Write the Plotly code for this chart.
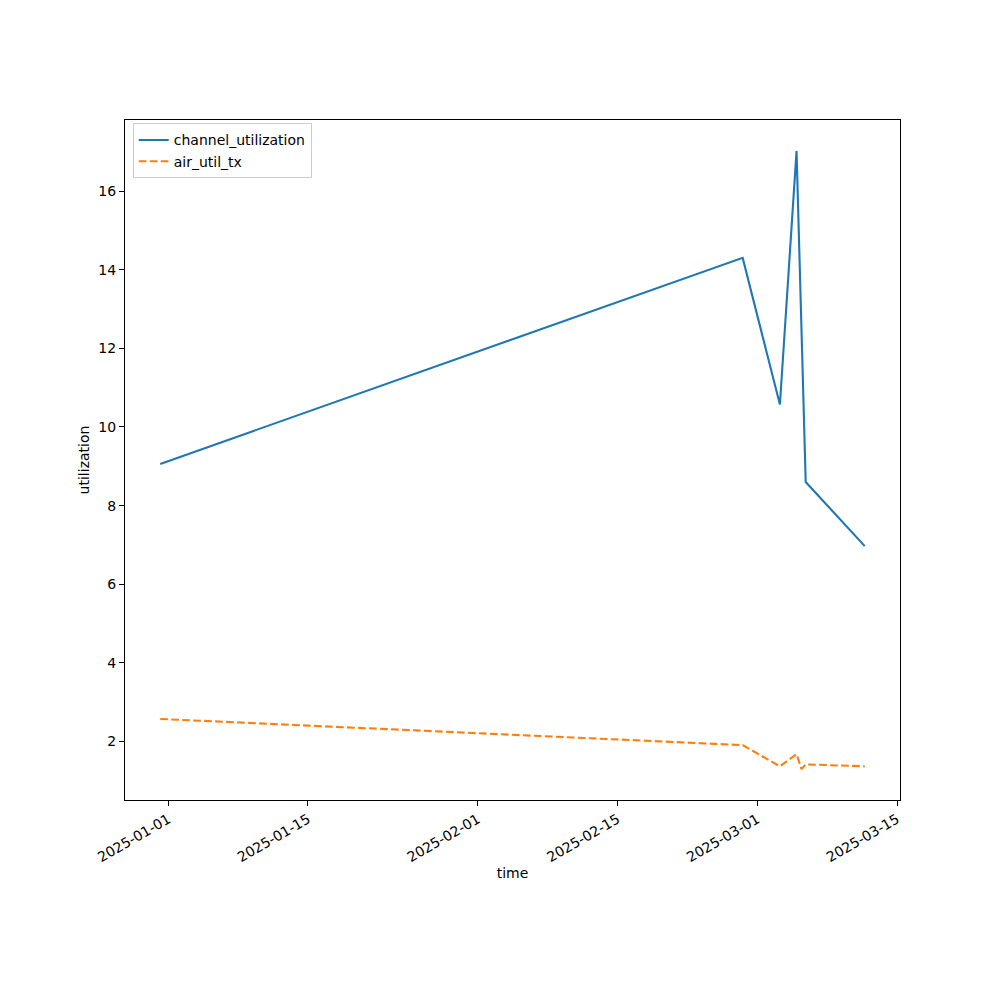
import pandas as pd
import plotly.graph_objects as go

# Data
ch_time = ["2024-12-31 04:48", "2025-02-27 13:00", "2025-03-03 06:30",
           "2025-03-04 22:30", "2025-03-05 20:30", "2025-03-11 18:30"]
ch_util = [9.06, 14.30, 10.57, 17.02, 8.60, 6.97]

air_time = ["2024-12-31 04:48", "2025-02-27 13:00", "2025-03-03 06:30",
            "2025-03-04 22:30", "2025-03-05 10:30", "2025-03-05 20:30",
            "2025-03-11 18:30"]
air_util = [2.575, 1.91, 1.37, 1.68, 1.30, 1.42, 1.37]

tick_dates = ["2025-01-01", "2025-01-15", "2025-02-01", "2025-02-15",
              "2025-03-01", "2025-03-15"]
y_ticks = [2, 4, 6, 8, 10, 12, 14, 16]

# Matplotlib-like 5% auto margins
all_t = pd.to_datetime(ch_time + air_time)
tspan = all_t.max() - all_t.min()
x_range = [all_t.min() - 0.05 * tspan, all_t.max() + 0.05 * tspan]
all_v = ch_util + air_util
vspan = max(all_v) - min(all_v)
y_range = [min(all_v) - 0.05 * vspan, max(all_v) + 0.05 * vspan]

FONT = "DejaVu Sans"

fig = go.Figure()
fig.add_trace(go.Scatter(x=pd.to_datetime(ch_time), y=ch_util, mode="lines",
                         name="channel_utilization",
                         line=dict(color="#1f77b4", width=2.1)))
fig.add_trace(go.Scatter(x=pd.to_datetime(air_time), y=air_util, mode="lines",
                         name="air_util_tx",
                         line=dict(color="#ff7f0e", width=2.1, dash="7.7px,3.3px")))

fig.update_layout(
    width=992, height=992,
    margin=dict(l=117, r=100, t=112, b=200),
    paper_bgcolor="white", plot_bgcolor="white",
    font=dict(family=FONT, size=14, color="black"),
    showlegend=True,
    legend=dict(x=0.01, y=0.995, xanchor="left", yanchor="top",
                bordercolor="#cccccc", borderwidth=1, bgcolor="rgba(255,255,255,0.8)",
                font=dict(family=FONT, size=14), tracegroupgap=0,
                itemwidth=30),
    xaxis=dict(
        range=x_range, type="date",
        tickvals=pd.to_datetime(tick_dates), tickformat="%Y-%m-%d",
        tickangle=-30, ticks="outside", ticklen=5, tickwidth=1, tickcolor="black",
        showline=True, linecolor="black", linewidth=1, mirror=True,
        showgrid=False, zeroline=False,
        title=dict(text="time", font=dict(family=FONT, size=14), standoff=4),
    ),
    yaxis=dict(
        range=y_range,
        tickvals=y_ticks,
        ticks="outside", ticklen=5, tickwidth=1, tickcolor="black",
        showline=True, linecolor="black", linewidth=1, mirror=True,
        showgrid=False, zeroline=False,
        title=dict(text="utilization", font=dict(family=FONT, size=14), standoff=5),
    ),
)

fig.write_html("out.html")
